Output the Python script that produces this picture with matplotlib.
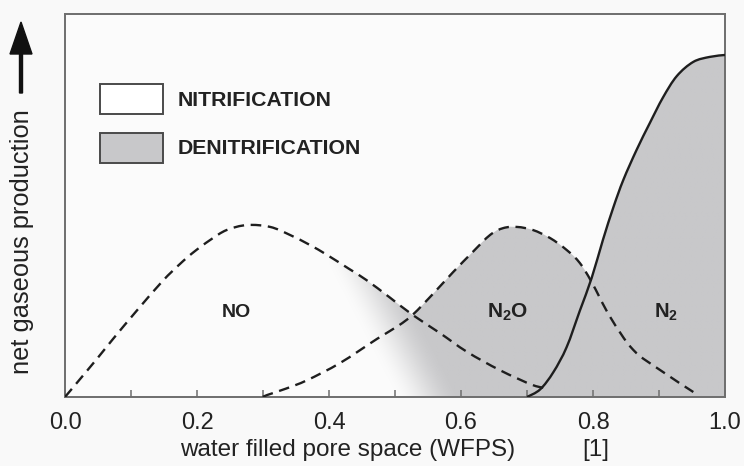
import numpy as np
import matplotlib
matplotlib.use("Agg")
import matplotlib.pyplot as plt
from matplotlib.patches import Rectangle, Polygon, PathPatch
from matplotlib.path import Path

plt.rcParams['font.family'] = ['Liberation Sans', 'DejaVu Sans']
plt.rcParams['mathtext.fontset'] = 'custom'
plt.rcParams['mathtext.rm'] = 'Liberation Sans'
plt.rcParams['mathtext.bf'] = 'Liberation Sans:bold'

# ---- data (x = WFPS, y = relative production) ----
no_x = [0.0, 0.02, 0.05, 0.073, 0.109, 0.148, 0.174, 0.194, 0.22, 0.245,
        0.276, 0.311, 0.341, 0.371, 0.397, 0.43, 0.457, 0.492, 0.527, 0.568,
        0.609, 0.659, 0.709, 0.732]
no_y = [0.0, 0.041, 0.103, 0.152, 0.226, 0.303, 0.347, 0.377, 0.41, 0.436,
        0.449, 0.444, 0.423, 0.397, 0.371, 0.335, 0.305, 0.26, 0.214, 0.167,
        0.118, 0.07, 0.031, 0.023]

n2o_x = [0.30, 0.306, 0.335, 0.367, 0.417, 0.473, 0.505, 0.527, 0.558, 0.588,
         0.618, 0.644, 0.664, 0.685, 0.709, 0.735, 0.76, 0.78, 0.798, 0.826,
         0.861, 0.902, 0.952]
n2o_y = [0.0, 0.005, 0.022, 0.044, 0.089, 0.152, 0.186, 0.215, 0.27, 0.326,
         0.379, 0.423, 0.441, 0.444, 0.436, 0.415, 0.384, 0.35, 0.30, 0.209,
         0.123, 0.07, 0.013]

n2_x = [0.70, 0.72, 0.74, 0.76, 0.78, 0.798, 0.815, 0.831, 0.846, 0.866,
        0.886, 0.906, 0.927, 0.952, 0.977, 1.0]
n2_y = [0.0, 0.02, 0.065, 0.13, 0.225, 0.311, 0.41, 0.496, 0.567, 0.645,
        0.715, 0.782, 0.838, 0.875, 0.888, 0.893]

xticks = [0.0, 0.2, 0.4, 0.6, 0.8, 1.0]
xticklabels = ["0.0", "0.2", "0.4", "0.6", "0.8", "1.0"]
minor_ticks = [0.1, 0.3, 0.5, 0.7, 0.9]

legend_labels = ["NITRIFICATION", "DENITRIFICATION"]
region_labels = ["NO", r"$\mathbf{N_2O}$", r"$\mathbf{N_2}$"]
region_pos = [(0.26, 0.22), (0.67, 0.22), (0.91, 0.22)]

GRAY = '#c8c8ca'
INK = '#1e1e1e'


def smooth_path(xs, ys):
    """Bezier path passing through the read points (Catmull-Rom tangents)."""
    P = np.column_stack([xs, ys]).astype(float)
    E = np.vstack([P[0], P, P[-1]])
    verts = [P[0]]
    codes = [Path.MOVETO]
    for i in range(len(P) - 1):
        p0, p1, p2, p3 = E[i], E[i + 1], E[i + 2], E[i + 3]
        verts += [p1 + (p2 - p0) / 6, p2 - (p3 - p1) / 6, p2]
        codes += [Path.CURVE4] * 3
    return Path(np.array(verts), codes)


fig = plt.figure(figsize=(7.44, 4.66), dpi=100, facecolor='#f9f9f9')
ax = fig.add_axes([65/744, 1-397/466, 660/744, 383/466])
ax.set_facecolor('#fbfbfb')
ax.set_xlim(0, 1)
ax.set_ylim(0, 1)

paths = [smooth_path(no_x, no_y), smooth_path(n2o_x, n2o_y),
         smooth_path(n2_x, n2_y)]

# ---- denitrification fill (under the envelope of the curves, with fade) ----
gx = np.linspace(0.40, 1.0, 800)
env = np.zeros_like(gx)
for p in paths:
    pts = p.to_polygons(closed_only=False)[0]
    env = np.maximum(env, np.interp(gx, pts[:, 0], pts[:, 1], left=0, right=0))
verts = np.vstack([np.column_stack([gx, env]), [[1.0, 0.0], [0.40, 0.0]]])
poly = Polygon(verts, closed=True, facecolor='none', edgecolor='none')
ax.add_patch(poly)

nx, ny = 600, 400
XX, YY = np.meshgrid(np.linspace(0, 1, nx), np.linspace(0, 1, ny))
s = XX + 0.3 * YY
t = np.clip((s - 0.50) / 0.10, 0, 1)
t = t * t * (3 - 2 * t)
rgb = np.array(matplotlib.colors.to_rgb(GRAY))
img = np.ones((ny, nx, 4))
img[..., :3] = rgb
img[..., 3] = t
im = ax.imshow(img, extent=[0, 1, 0, 1], origin='lower', aspect='auto',
               interpolation='bilinear', zorder=1)
im.set_clip_path(poly)

# ---- curves ----
dash = (0, (4.5, 2.8))
for p, ls in zip(paths, [dash, dash, '-']):
    ax.add_patch(PathPatch(p, facecolor='none', edgecolor=INK, lw=1.7,
                           linestyle=ls, zorder=3, capstyle='butt'))

# ---- legend (manual boxes) ----
ax.add_patch(Rectangle((0.053, 0.739), 0.095, 0.078, facecolor='white',
                       edgecolor='#4a4a4a', lw=1.4, zorder=4))
ax.add_patch(Rectangle((0.053, 0.611), 0.095, 0.078, facecolor=GRAY,
                       edgecolor='#4a4a4a', lw=1.4, zorder=4))
ax.text(0.171, 0.775, legend_labels[0], fontsize=15.3, fontweight='bold',
        color='#222222', va='center', ha='left', zorder=4)
ax.text(0.171, 0.650, legend_labels[1], fontsize=15.3, fontweight='bold',
        color='#222222', va='center', ha='left', zorder=4)

for lab, (px, py), fs in zip(region_labels, region_pos, [14, 15, 14.5]):
    ax.text(px, py, lab, fontsize=fs, fontweight='bold', color='#222222',
            ha='center', va='center', zorder=4)

# ---- axes styling ----
for sp in ax.spines.values():
    sp.set_color('#6e6e6e')
    sp.set_linewidth(1.4)
ax.set_xticks(xticks)
ax.set_xticklabels(xticklabels)
ax.set_xticks(minor_ticks, minor=True)
ax.tick_params(axis='x', which='both', direction='in', length=5, width=1.1,
               color='#6e6e6e', labelsize=17, pad=11, labelcolor='#222222')
ax.set_yticks([])

fig.text(180/744, 1-450/466, "water filled pore space (WFPS)", fontsize=17.5,
         color='#222222', ha='left', va='center')
fig.text(582/744, 1-450/466, "[1]", fontsize=17.5, color='#222222',
         ha='left', va='center')

fig.text(22/744, 1-242/466, "net gaseous production", fontsize=18.3,
         color='#222222', rotation=90, ha='center', va='center')
fig.add_artist(matplotlib.patches.FancyArrow(
    21/744, 1-93/466, 0, (93-22)/466, width=3/744, head_width=22/744,
    head_length=32/466, length_includes_head=True, transform=fig.transFigure,
    color='#111111'))

fig.savefig("out.png", dpi=100, facecolor=fig.get_facecolor())
